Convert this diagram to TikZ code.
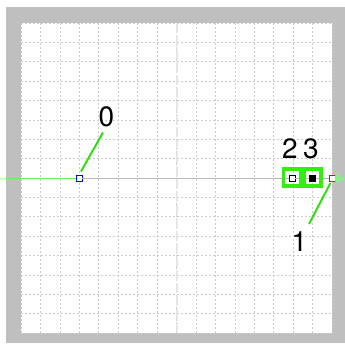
\documentclass[tikz,border=0pt]{standalone}
\usepackage{fontspec}
\setmainfont{TeX Gyre Heros}
\usetikzlibrary{arrows.meta}
\definecolor{frame}{HTML}{BFBFBF}
\definecolor{gridc}{HTML}{CCCCCC}
\definecolor{hilite}{HTML}{33EE11}
\definecolor{leader}{HTML}{33DD11}
\definecolor{axisg}{HTML}{66EE66}
\definecolor{axisl}{HTML}{BDB8C2}
\definecolor{tipg}{HTML}{88EE88}
\tikzset{
  pt/.style={draw, line width=0.8pt, minimum size=6pt, inner sep=0pt, fill=white},
  hbox/.style={draw=hilite, line width=3.5pt, minimum size=17pt, inner sep=0pt},
  lab/.style={font=\fontsize{28}{28}\selectfont, inner sep=0pt},
  lead/.style={draw=leader, line width=2pt},
  gridl/.style={gridc, line width=0.6pt, dash pattern=on 2pt off 2pt}
}
\begin{document}
\begin{tikzpicture}[x=1pt,y=-1pt]
\useasboundingbox (0,0) rectangle (345,343);
\fill[frame] (6,7) rectangle (345,343);
\fill[white] (21,23) rectangle (332,333);
\foreach \i in {0,...,16} {
  \draw[gridl] ({21+\i*19.4375},23) -- ({21+\i*19.4375},333);
  \draw[gridl] (21,{23+\i*19.375}) -- (332,{23+\i*19.375});
}
\draw[gray!20, line width=2pt, dash pattern=on 10pt off 3pt] (176.5,23) -- (176.5,333);
% nodes
\node[pt, draw=blue] (n0) at (79,178.3) {};
\node[pt, draw=red] (n1) at (332.5,178.3) {};
\node[pt, draw=black] (n2) at (292,178.3) {};
\node[pt, draw=black, fill=black!0] (n3) at (312.5,178.3) {};
\fill[black] (n3.center) ++(-3,-3) rectangle ++(6,6);
% axis
\coordinate (left) at (6,178.3);
\coordinate (tip) at (345,178.3);
\draw[axisg, line width=1pt] (left) -- (n0.west);
\draw[axisl, line width=1.2pt] (n0.east) -- (n2.west);
\draw[axisl, line width=1.2pt] (n2.east) -- (n3.west);
\draw[axisl, line width=1.2pt] (n3.east) -- (n1.west);
\draw[tipg, line width=1pt, -{Triangle[length=10pt,width=11pt]}] (n1.east) -- (tip);
% highlight boxes
\node[hbox] (h2) at (292,177.5) {};
\node[hbox] (h3) at (312.5,177.5) {};
% labels
\node[lab] (l0) at (106.5,116.5) {0};
\node[lab] (l2) at (290,148.5) {2};
\node[lab] (l3) at (311,148.5) {3};
\node[lab] (l1) at (299.5,241.5) {1};
\coordinate (c0a) at (81,171.5);
\coordinate (c0b) at (103,132.5);
\coordinate (c1a) at (330.5,183);
\coordinate (c1b) at (309,224);
\draw[lead] (c0a) -- (c0b);
\draw[lead] (c1a) -- (c1b);
\end{tikzpicture}
\end{document}
